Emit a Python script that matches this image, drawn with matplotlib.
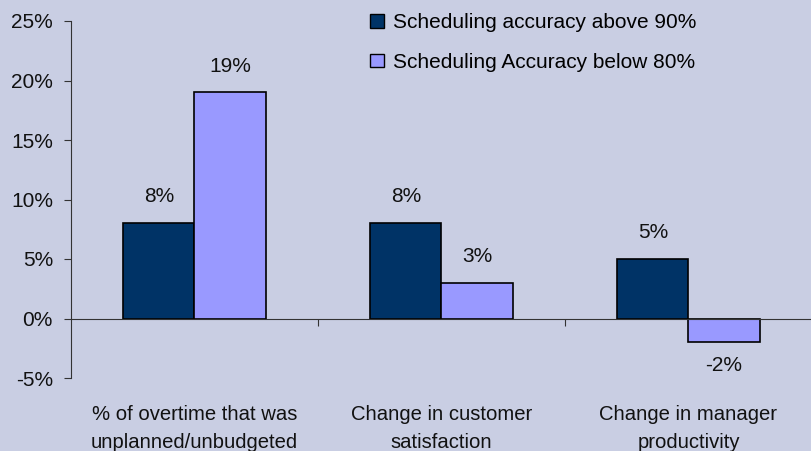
import matplotlib
matplotlib.use("Agg")
import matplotlib.pyplot as plt
import matplotlib.transforms as mtransforms
from matplotlib.patches import Patch
import numpy as np

categories = ["% of overtime that was\nunplanned/unbudgeted",
              "Change in customer\nsatisfaction",
              "Change in manager\nproductivity"]
series_names = ["Scheduling accuracy above 90%", "Scheduling Accuracy below 80%"]
above90 = [8, 8, 5]
below80 = [19, 3, -2]
yticks = [-5, 0, 5, 10, 15, 20, 25]

bg = "#C9CEE3"
c_dark = "#003366"
c_light = "#9999FF"
FS = 15

plt.rcParams['font.family'] = ['Liberation Sans', 'DejaVu Sans']
fig = plt.figure(figsize=(8.12, 4.51), dpi=100, facecolor=bg)
ax = fig.add_axes([71/812, 1-378/451, 1-71/812, (378-21)/451])
ax.set_facecolor(bg)

x = np.arange(len(categories))
w = 0.288
ax.bar(x - w/2, above90, w, color=c_dark, edgecolor="black", linewidth=1.2)
ax.bar(x + w/2, below80, w, color=c_light, edgecolor="black", linewidth=1.2)

for xs, vals in ((x - w/2, above90), (x + w/2, below80)):
    for xi, v in zip(xs, vals):
        off = 19 if v >= 0 else -17
        ax.annotate(f"{v}%", (xi, v), xytext=(0, off), textcoords="offset points",
                    ha="center", va="center", fontsize=FS, color="#111111")

ax.set_xlim(-0.5, 2.5)
ax.set_ylim(-5, 25)
ax.set_yticks(yticks)
ax.set_yticklabels([f"{t}%" for t in yticks], fontsize=FS, color="#111111")
ax.tick_params(axis="y", length=5, width=0.8, color="#333333", pad=8)

for s in ["top", "right"]:
    ax.spines[s].set_visible(False)
ax.spines["left"].set_color("#333333")
ax.spines["left"].set_linewidth(0.8)
ax.spines["bottom"].set_position(("data", 0))
ax.spines["bottom"].set_color("#333333")
ax.spines["bottom"].set_linewidth(0.8)

ax.set_xticks(x)
ax.set_xticklabels(["", "", ""])
ax.tick_params(axis="x", which="major", length=0)
ax.set_xticks([0.5, 1.5], minor=True)
ax.tick_params(axis="x", which="minor", length=5, width=0.8, color="#333333", direction="out")

trans = mtransforms.blended_transform_factory(ax.transData, ax.transAxes)
for xi, lab in zip(x, categories):
    ax.text(xi, -0.077, lab, transform=trans, ha="center", va="top",
            fontsize=14.6, color="#111111", linespacing=1.6)

handles = [Patch(facecolor=c_dark, edgecolor="black", linewidth=1.0),
           Patch(facecolor=c_light, edgecolor="black", linewidth=1.0)]
fig.legend(handles, series_names, loc="upper left",
           bbox_to_anchor=(370/812, 1-13/451), frameon=False, fontsize=FS,
           handlelength=0.65, handleheight=0.65, handletextpad=0.45,
           labelspacing=1.0, borderpad=0, borderaxespad=0)

fig.savefig("out.png", dpi=100, facecolor=bg)
